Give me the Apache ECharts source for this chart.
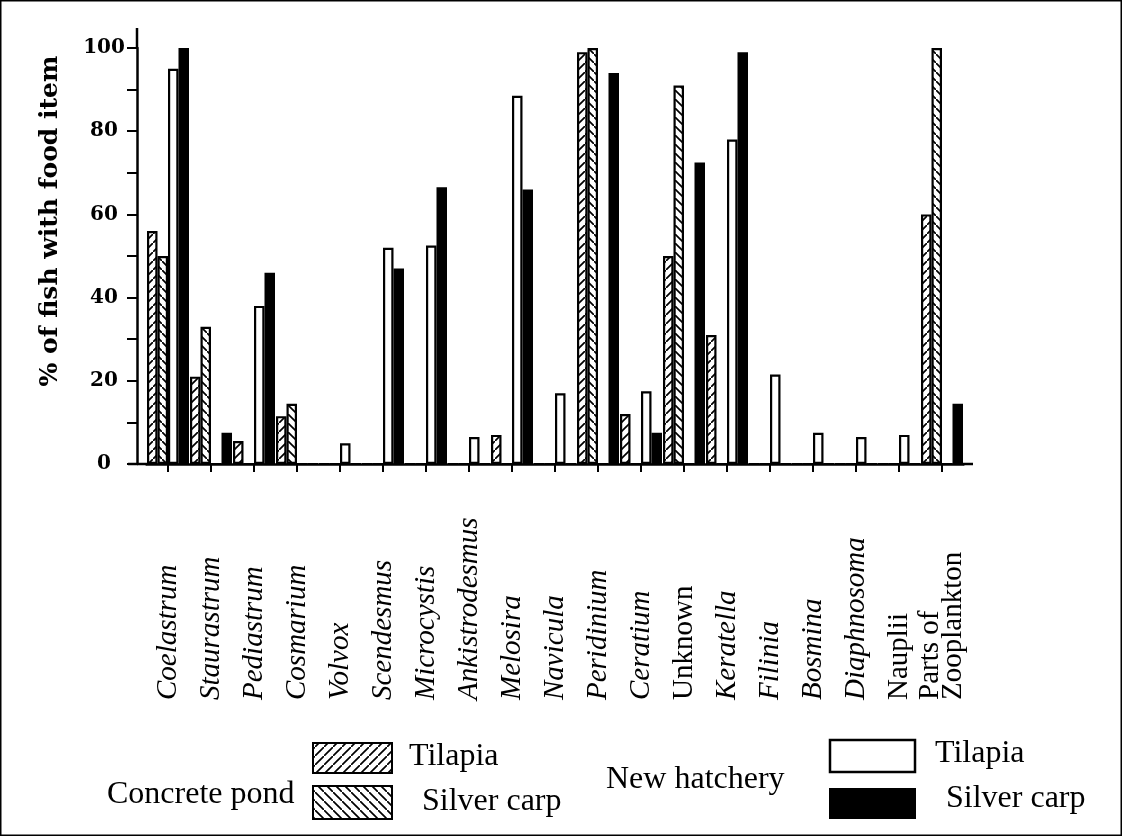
<!DOCTYPE html>
<html>
<head>
<meta charset="utf-8">
<title>% of fish with food item</title>
<script src="https://cdn.jsdelivr.net/npm/echarts@6/dist/echarts.min.js"></script>
<style>
  html, body { margin: 0; padding: 0; background: #fff; }
  #chart { width: 1122px; height: 836px; }
</style>
</head>
<body>
<div id="chart"></div>
<script>
// food items (x axis)
const categories = ['Coelastrum', 'Staurastrum', 'Pediastrum', 'Cosmarium', 'Volvox', 'Scendesmus',
  'Microcystis', 'Ankistrodesmus', 'Melosira', 'Navicula', 'Peridinium', 'Ceratium', 'Unknown',
  'Keratella', 'Filinia', 'Bosmina', 'Diaphnosoma', 'Nauplii', 'Parts of Zooplankton'];
// names printed upright (not genus names)
const uprightNames = ['Unknown', 'Nauplii', 'Parts of Zooplankton'];

// % of fish with food item
const concreteTilapia    = [56, 21, 5.5, 11.5, 0, 0, 0, 0, 7, 0, 99, 12, 50, 31, 0, 0, 0, 0, 60];
const concreteSilverCarp = [50, 33, 0, 14.5, 0, 0, 0, 0, 0, 0, 100, 0, 91, 0, 0, 0, 0, 0, 100];
const hatcheryTilapia    = [95, 0, 38, 0, 5, 52, 52.5, 6.5, 88.5, 17, 0, 17.5, 0, 78, 21.5, 7.5, 6.5, 7, 0];
const hatcherySilverCarp = [100, 7.5, 46, 0, 0, 47, 66.5, 0, 66, 0, 94, 7.5, 72.5, 99, 0, 0, 0, 0, 14.5];

const yTicks = [0, 20, 40, 60, 80, 100];

function hatch(dir) {
  const c = document.createElement('canvas');
  c.width = c.height = 9;
  const g = c.getContext('2d');
  g.fillStyle = '#fff';
  g.fillRect(0, 0, 9, 9);
  g.strokeStyle = '#000';
  g.lineWidth = 1.7;
  g.beginPath();
  if (dir > 0) {
    g.moveTo(-1, 10); g.lineTo(10, -1);
  } else {
    g.moveTo(-1, -1); g.lineTo(10, 10);
  }
  g.stroke();
  return { image: c, repeat: 'repeat' };
}
const fwd = hatch(1);
const back = hatch(-1);

const chart = echarts.init(document.getElementById('chart'));

const serif = 'Liberation Serif';
const legendText = (text, x, y) => ({
  type: 'text', x: x, y: y,
  style: { text: text, font: '32px "Liberation Serif"', fill: '#000', verticalAlign: 'middle' }
});

function catLabel(name) {
  const style = uprightNames.indexOf(name) >= 0 ? 'u' : 'i';
  if (name === 'Parts of Zooplankton') return '{u|Parts of}\n{u|Zooplankton}';
  return '{' + style + '|' + name + '}';
}

function barSeries(name, data, color) {
  return {
    name: name,
    type: 'bar',
    data: data,
    barWidth: 10.5,
    barGap: '0%',
    itemStyle: { color: color, borderColor: '#000', borderWidth: 2.2 },
    emphasis: { disabled: true }
  };
}

let option = {
  backgroundColor: '#fff',
  animation: false,
  grid: { left: 146.5, right: 158.5, top: 48, bottom: 372, containLabel: false, outerBoundsMode: 'none' },
  xAxis: {
    type: 'category',
    data: categories,
    axisLine: { show: true, lineStyle: { color: '#000', width: 2.5 } },
    axisTick: { show: true, alignWithLabel: true, length: 8, lineStyle: { color: '#000', width: 2 } },
    axisLabel: {
      interval: 0,
      rotate: 90,
      align: 'left',
      verticalAlign: 'middle',
      margin: 236,
      color: '#000',
      formatter: catLabel,
      rich: {
        i: { fontFamily: serif, fontStyle: 'italic', fontSize: 29, lineHeight: 23, color: '#000' },
        u: { fontFamily: serif, fontStyle: 'normal', fontSize: 29, lineHeight: 23, color: '#000' }
      }
    }
  },
  yAxis: {
    type: 'value',
    min: 0,
    max: 100,
    interval: 10,
    offset: 9.5,
    splitLine: { show: false },
    axisLine: { show: true, lineStyle: { color: '#000', width: 2.5 } },
    axisTick: { show: true, length: 10, lineStyle: { color: '#000', width: 2 } },
    axisLabel: {
      align: 'center',
      margin: 33,
      fontFamily: 'DejaVu Serif',
      fontWeight: 'bold',
      fontSize: 20,
      color: '#000',
      formatter: v => yTicks.indexOf(v) >= 0 ? String(v) : ''
    }
  },
  series: [
    barSeries('Concrete pond Tilapia', concreteTilapia, fwd),
    barSeries('Concrete pond Silver carp', concreteSilverCarp, back),
    barSeries('New hatchery Tilapia', hatcheryTilapia, '#fff'),
    barSeries('New hatchery Silver carp', hatcherySilverCarp, '#000')
  ],
  graphic: [
    // frame
    { type: 'rect', shape: { x: 0.75, y: 0.75, width: 1120.5, height: 834.5 },
      style: { fill: null, stroke: '#000', lineWidth: 1.5 } },
    // axis extensions
    { type: 'line', shape: { x1: 137, y1: 28, x2: 137, y2: 48 }, style: { stroke: '#000', lineWidth: 2.5 } },
    { type: 'line', shape: { x1: 128, y1: 464, x2: 147, y2: 464 }, style: { stroke: '#000', lineWidth: 2.5 } },
    { type: 'line', shape: { x1: 963, y1: 464, x2: 973, y2: 464 }, style: { stroke: '#000', lineWidth: 2.5 } },
    // y axis title
    { type: 'text', x: 50, y: 221, rotation: Math.PI / 2,
      style: { text: '% of fish with food item', font: 'bold 25px "DejaVu Serif"', fill: '#000',
        align: 'center', verticalAlign: 'middle' } },
    // legend
    legendText('Concrete pond', 107, 795),
    { type: 'rect', shape: { x: 313, y: 743, width: 79, height: 30 },
      style: { fill: fwd, stroke: '#000', lineWidth: 2 } },
    { type: 'rect', shape: { x: 313, y: 786, width: 79, height: 33 },
      style: { fill: back, stroke: '#000', lineWidth: 2 } },
    legendText('Tilapia', 409, 757),
    legendText('Silver carp', 422, 802),
    legendText('New hatchery', 606, 780),
    { type: 'rect', shape: { x: 830, y: 740, width: 85, height: 32 },
      style: { fill: '#fff', stroke: '#000', lineWidth: 2.5 } },
    { type: 'rect', shape: { x: 830, y: 789, width: 85, height: 29 },
      style: { fill: '#000', stroke: '#000', lineWidth: 2 } },
    legendText('Tilapia', 935, 754),
    legendText('Silver carp', 946, 799)
  ]
};

chart.setOption(option);
</script>
</body>
</html>
